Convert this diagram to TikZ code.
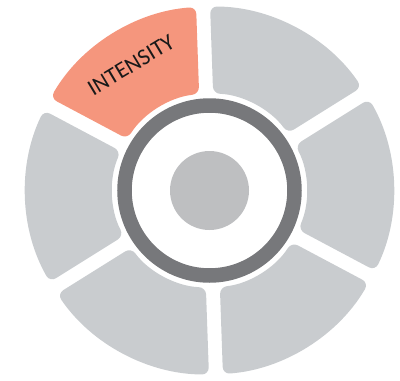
\documentclass[tikz,border=0pt]{standalone}
\usepackage{fontspec}
\setmainfont{Carlito}
\definecolor{seggray}{HTML}{C9CCCF}
\definecolor{segorange}{HTML}{F5967D}
\definecolor{ringgray}{HTML}{77787B}
\definecolor{hubgray}{HTML}{BEBFC1}
\tikzset{
  segshape/.style={rounded corners=7pt},
}
\begin{document}
\begin{tikzpicture}[x=1pt,y=1pt]
\useasboundingbox (0,0) rectangle (400,-381);
\begin{scope}[shift={(209.5pt,-190.5pt)}]
  \def\ro{184}\def\ri{97}
  \pgfmathsetmacro{\dout}{asin(7/\ro)}
  \pgfmathsetmacro{\din}{asin(7/\ri)}
  \foreach \c/\col in {122/segorange,182/seggray,242/seggray,302/seggray,2/seggray,62/seggray}{
    \pgfmathsetmacro{\a}{\c-30}
    \pgfmathsetmacro{\b}{\c+30}
    \fill[segshape,\col] (\a+\dout:\ro pt) arc[start angle=\a+\dout, end angle=\b-\dout, radius=\ro pt]
      -- (\b-\din:\ri pt) arc[start angle=\b-\din, end angle=\a+\din, radius=\ri pt] -- cycle;
  }
  \draw[ringgray,line width=14.5pt] (0,0) circle[radius=85pt];
  \fill[hubgray] (0,0) circle[radius=39.5pt];
\end{scope}
\node[rotate=31,font=\fontsize{23}{26}\selectfont,inner sep=0pt,text=black!90] (intensity) at (131,-65) {INTENSITY};
\end{tikzpicture}
\end{document}
